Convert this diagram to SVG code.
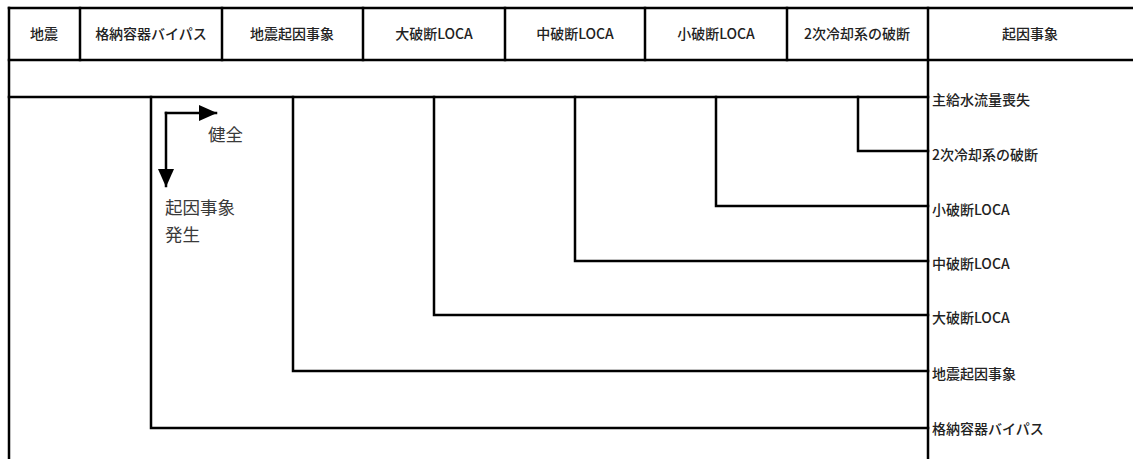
<svg xmlns="http://www.w3.org/2000/svg" width="1133" height="459" viewBox="0 0 1133 459">
<style>
.ln{stroke:#000;stroke-width:2.5;fill:none;stroke-linecap:square}
.hd{font-family:"Noto Sans CJK JP","Liberation Sans",sans-serif;font-size:14px;font-weight:500;fill:#222;text-anchor:middle}
.lb{font-family:"Noto Sans CJK JP","Liberation Sans",sans-serif;font-size:14px;font-weight:500;fill:#222}
.nt{font-family:"Noto Sans CJK JP",serif;font-size:17.5px;fill:#3a3a3a}
</style>
<defs>
<marker id="ah2" markerWidth="18" markerHeight="16" refX="17" refY="8" orient="auto" markerUnits="userSpaceOnUse">
<path d="M0,0 L18,8 L0,16 z" fill="#000"/>
</marker>
</defs>
<rect width="1133" height="459" fill="#fff"/>
<g id="table">
<line class="ln" x1="9" y1="8" x2="1133" y2="8"/>
<line class="ln" x1="9" y1="60" x2="1133" y2="60"/>
<line class="ln" x1="9" y1="8" x2="9" y2="459"/>
<line class="ln" x1="80" y1="8" x2="80" y2="60"/>
<line class="ln" x1="222" y1="8" x2="222" y2="60"/>
<line class="ln" x1="363" y1="8" x2="363" y2="60"/>
<line class="ln" x1="505" y1="8" x2="505" y2="60"/>
<line class="ln" x1="645" y1="8" x2="645" y2="60"/>
<line class="ln" x1="787" y1="8" x2="787" y2="60"/>
<line class="ln" x1="928" y1="8" x2="928" y2="459"/>
</g>
<g id="headers">
<text class="hd" x="44" y="39">地震</text>
<text class="hd" x="151" y="39">格納容器バイパス</text>
<text class="hd" x="292" y="39">地震起因事象</text>
<text class="hd" x="434" y="39">大破断LOCA</text>
<text class="hd" x="575" y="39">中破断LOCA</text>
<text class="hd" x="716" y="39">小破断LOCA</text>
<text class="hd" x="857" y="39">2次冷却系の破断</text>
<text class="hd" x="1030" y="39">起因事象</text>
</g>
<g id="connectors">
<line class="ln" x1="9" y1="97" x2="928" y2="97"/>
<polyline class="ln" points="858,97 858,151 928,151"/>
<polyline class="ln" points="716,97 716,206 928,206"/>
<polyline class="ln" points="575,97 575,261 928,261"/>
<polyline class="ln" points="434,97 434,315 928,315"/>
<polyline class="ln" points="293,97 293,371 928,371"/>
<polyline class="ln" points="151,97 151,428 928,428"/>
</g>
<g id="labels">
<text class="lb" x="932" y="105">主給水流量喪失</text>
<text class="lb" x="932" y="160">2次冷却系の破断</text>
<text class="lb" x="932" y="215">小破断LOCA</text>
<text class="lb" x="932" y="269">中破断LOCA</text>
<text class="lb" x="932" y="323">大破断LOCA</text>
<text class="lb" x="932" y="379">地震起因事象</text>
<text class="lb" x="932" y="434">格納容器バイパス</text>
</g>
<g id="legend">
<line class="ln" x1="166" y1="113" x2="216" y2="113" marker-end="url(#ah2)"/>
<line class="ln" x1="166" y1="113" x2="166" y2="186" marker-end="url(#ah2)"/>
<text class="nt" x="208" y="141">健全</text>
<text class="nt" x="165" y="214">起因事象</text>
<text class="nt" x="165" y="241">発生</text>
</g>
</svg>
